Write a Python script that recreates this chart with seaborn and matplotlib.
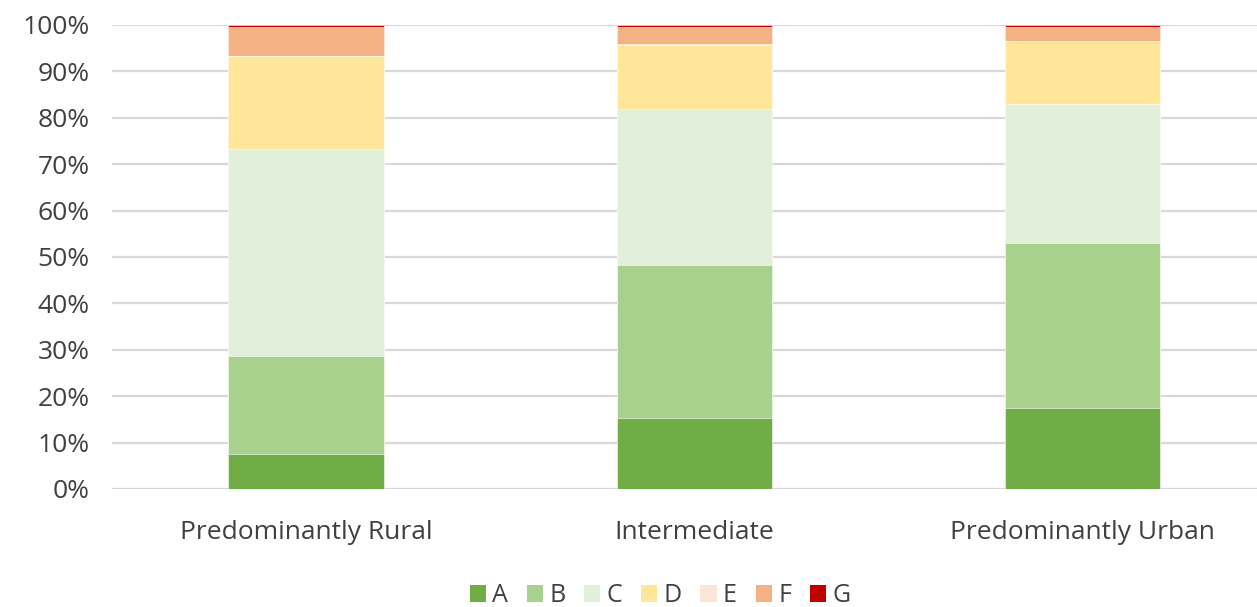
import matplotlib
matplotlib.use("Agg")
import matplotlib.pyplot as plt
from matplotlib.patches import Patch
from matplotlib.ticker import FuncFormatter
import numpy as np
import pandas as pd
import seaborn as sns

# Region types on the x axis
categories = ["Predominantly Rural", "Intermediate", "Predominantly Urban"]

# Share (%) of each class per region type
A = [7.5, 15.2, 17.4]
B = [21.2, 33.1, 35.6]
C = [44.6, 33.5, 29.9]
D = [20.0, 13.9, 13.6]
E = [0.1, 0.1, 0.1]
F = [6.2, 3.8, 3.0]
G = [0.4, 0.4, 0.4]

series_names = ["A", "B", "C", "D", "E", "F", "G"]
series_values = [A, B, C, D, E, F, G]
colors = ["#70AD47", "#A9D18E", "#E2EFDA", "#FFE699", "#FBE5D6", "#F4B183", "#C00000"]

sns.set_theme(style="white")
plt.rcParams["font.family"] = ["Open Sans", "DejaVu Sans"]
text_color = "#404040"

fig = plt.figure(figsize=(12.57, 6.07), dpi=100)
ax = fig.add_axes([112 / 1257, 1 - 489 / 607, 1 - 112 / 1257, 464 / 607])

# Stack by drawing cumulative totals from the top layer down
cumulative = np.cumsum(np.array(series_values), axis=0)
for i in range(len(series_names) - 1, -1, -1):
    df = pd.DataFrame({"region": categories, "value": cumulative[i]})
    sns.barplot(data=df, x="region", y="value", color=colors[i], width=0.4,
                saturation=1, edgecolor="white", linewidth=0.4, ax=ax, zorder=3)

ax.set_ylim(0, 100)
ax.set_xlim(-0.5, 2.45)
ax.set_yticks(np.arange(0, 101, 10))
ax.yaxis.set_major_formatter(FuncFormatter(lambda v, p: f"{int(v)}%"))
ax.grid(axis="y", color="#D9D9D9", linewidth=1.6, zorder=0)
ax.set_axisbelow(True)
for s in ax.spines.values():
    s.set_visible(False)
ax.set_xlabel("")
ax.set_ylabel("")
ax.tick_params(axis="both", length=0, labelsize=19, colors=text_color)
ax.tick_params(axis="x", pad=22)
ax.tick_params(axis="y", pad=16)

handles = [Patch(facecolor=c, edgecolor="none", label=n) for n, c in zip(series_names, colors)]
leg = fig.legend(handles=handles, loc="center", bbox_to_anchor=(660 / 1257, 1 - 596 / 607),
                 ncol=7, frameon=False, fontsize=18, handlelength=0.65, handleheight=0.65,
                 handletextpad=0.25, columnspacing=0.75)
for t in leg.get_texts():
    t.set_color(text_color)

fig.savefig("out.png", dpi=100)
